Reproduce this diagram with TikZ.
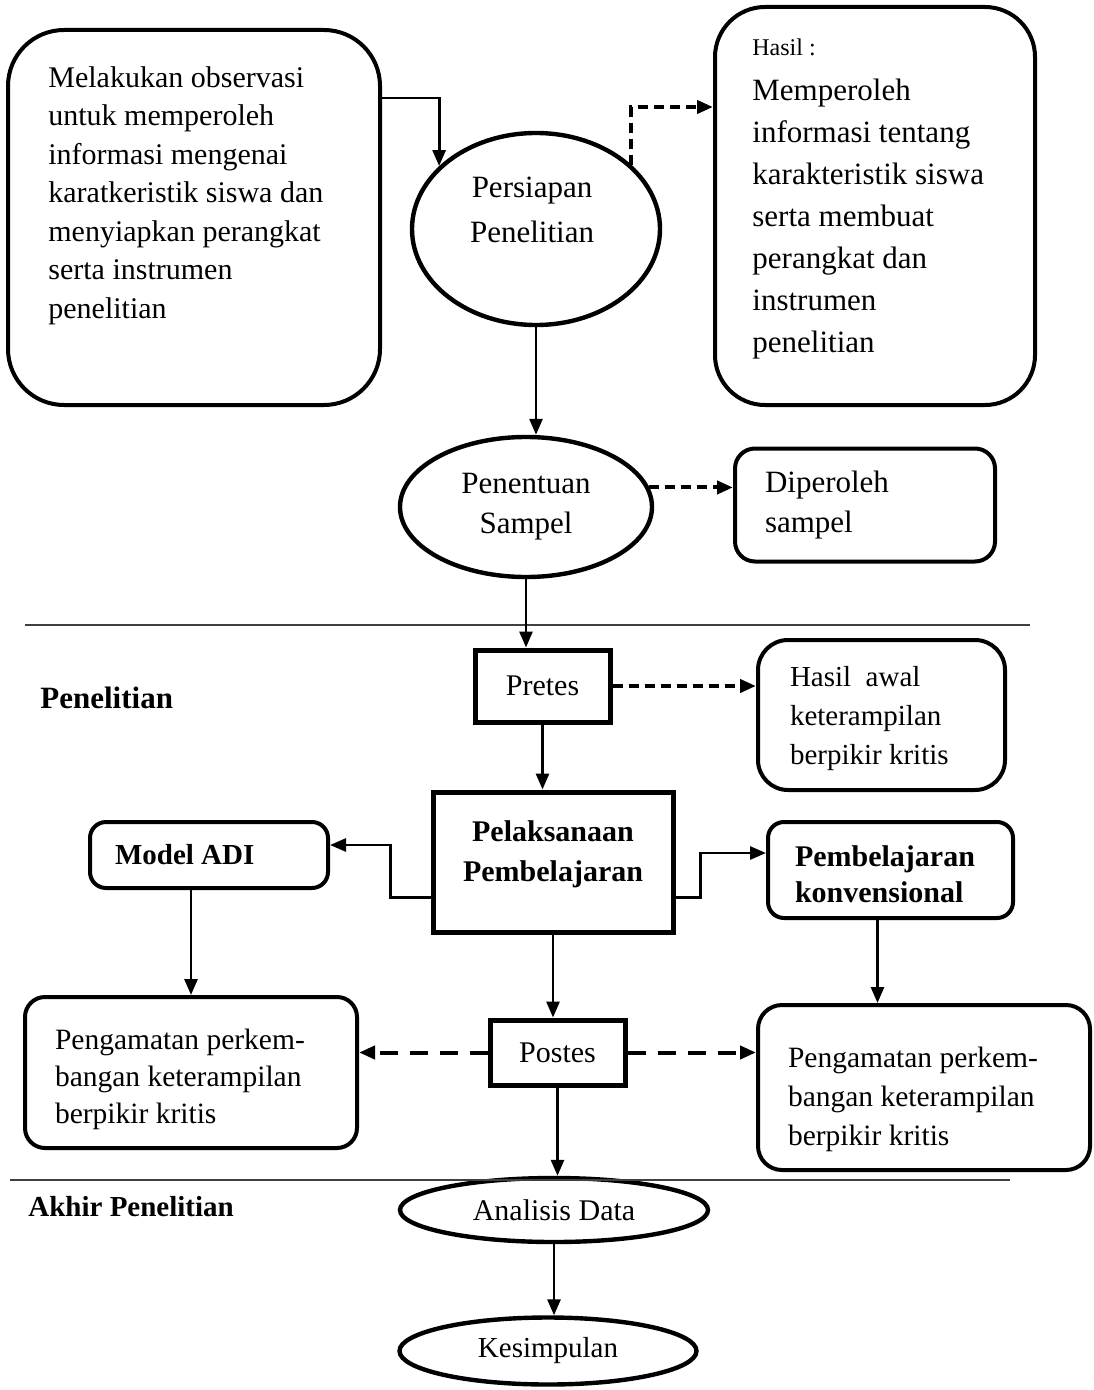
\documentclass[tikz,border=0pt]{standalone}
\usepackage{fontspec}
\setmainfont{Liberation Serif}
\usetikzlibrary{shapes.geometric,arrows.meta}

\tikzset{
  rbox/.style={draw,line width=2pt,rounded corners=#1,inner sep=0pt},
  rbox/.default=10pt,
  sbox/.style={draw,line width=2.5pt,inner sep=0pt},
  oval/.style={ellipse,draw,line width=2.2pt,inner sep=0pt},
  txt/.style={align=left,inner sep=0pt},
  arr/.style={-{Triangle[length=8pt,width=6.5pt]},line width=1.4pt},
  darr/.style={arr,line width=2pt,dash pattern=on 5pt off 3pt},
  darrlong/.style={darr,dash pattern=on 9pt off 6pt},
  rule/.style={line width=1pt,black!75}
}

\begin{document}
\begin{tikzpicture}[x=0.5pt,y=-0.5pt,
  every node/.style={font=\fontsize{15}{19}\selectfont,inner sep=0pt}]
\useasboundingbox (0,0) rectangle (1093,1390);

% persiapan
\node[rbox=28pt,minimum width=186pt,minimum height=187.5pt] (obs) at (194,217.5) {};
\node[txt,anchor=north west,font=\fontsize{15}{19.25}\selectfont] (obstxt) at (48,66)
  {Melakukan observasi\\untuk memperoleh\\informasi mengenai\\karatkeristik siswa dan\\menyiapkan perangkat\\serta instrumen\\penelitian};
\node[rbox=25pt,minimum width=160pt,minimum height=199pt] (hasil) at (875,206) {};
\node[anchor=west,font=\fontsize{12}{14}\selectfont] (hasiltitle) at (752,47) {Hasil :};
\node[txt,anchor=north west,font=\fontsize{15.5}{21}\selectfont] (hasiltxt) at (752,79)
  {Memperoleh\\informasi tentang\\karakteristik siswa\\serta membuat\\perangkat dan\\instrumen\\penelitian};
\node[oval,minimum width=124pt,minimum height=96pt] (prep) at (536,229) {};
\node[align=center,font=\fontsize{15.5}{22.5}\selectfont] (preptxt) at (532,210) {Persiapan\\Penelitian};
\node[oval,minimum width=126pt,minimum height=70pt,align=center,font=\fontsize{15.5}{20}\selectfont] (samp) at (526,507) {Penentuan\\Sampel};
\node[rbox=10pt,minimum width=130pt,minimum height=56.5pt,text width=100pt,align=flush left,font=\fontsize{15.5}{20}\selectfont] (dip) at (865,505) {Diperoleh\\sampel};

% penelitian
\node[sbox,minimum width=67.5pt,minimum height=36pt] (pre) at (542.5,686) {Pretes};
\node[anchor=west,font=\bfseries\fontsize{15.5}{19}\selectfont] (lblpen) at (40,698) {Penelitian};
\node[rbox=15pt,minimum width=123.5pt,minimum height=75pt,text width=91.5pt,align=flush left,font=\fontsize{14.5}{19.5}\selectfont] (awal) at (881.5,715) {\rule{0pt}{14pt}Hasil~ awal\\keterampilan\\berpikir kritis};
\node[sbox,minimum width=120pt,minimum height=70pt,align=center,font=\bfseries\fontsize{15}{20}\selectfont] (pel) at (553,862) {Pelaksanaan\\Pembelajaran\rule[-11pt]{0pt}{11pt}};
\node[rbox=8pt,minimum width=119pt,minimum height=33pt,text width=94pt,align=flush left,font=\bfseries\fontsize{14.5}{18}\selectfont] (adi) at (209,855) {Model ADI};
\node[rbox=8pt,minimum width=122.5pt,minimum height=48pt,text width=95.5pt,align=flush left,font=\bfseries\fontsize{15}{18}\selectfont] (kon) at (890.5,870) {\rule{0pt}{15pt}Pembelajaran\\konvensional};
\node[rbox=10pt,minimum width=166pt,minimum height=75.5pt,text width=136pt,align=flush left,font=\fontsize{14.75}{18.5}\selectfont] (pengL) at (191,1072.5) {\rule{0pt}{17pt}Pengamatan perkem-\\bangan keterampilan\\berpikir kritis};
\node[sbox,minimum width=67.5pt,minimum height=32.5pt] (post) at (557.5,1052.5) {Postes};
\node[rbox=12pt,minimum width=166pt,minimum height=82.5pt,text width=136pt,align=flush left,font=\fontsize{14.75}{19.5}\selectfont] (pengR) at (924,1087.5) {\rule{0pt}{22pt}Pengamatan perkem-\\bangan keterampilan\\berpikir kritis};

% akhir penelitian
\node[anchor=west,font=\bfseries\fontsize{14.5}{18}\selectfont] (lblakhir) at (28,1207) {Akhir Penelitian};
\node[oval,minimum width=154pt,minimum height=32pt] (ana) at (554,1210) {Analisis Data};
\node[oval,minimum width=148.5pt,minimum height=33.5pt,font=\fontsize{14.5}{18}\selectfont] (kes) at (548,1351) {Kesimpulan};

\draw[rule] (25,625) -- (1030,625);
\draw[rule] (10,1180) -- (1010,1180);

\draw[arr] ([yshift=-35pt]obs.north east) -| (prep.147);
\draw[darr] (prep.34) |- ([yshift=-51pt]hasil.north west);
\draw[arr] (prep.south) -- (prep.south |- samp.north);
\draw[darr] (samp.9) -- (samp.9 -| dip.west);
\draw[arr] (samp.south) -- (samp.south |- pre.north);
\draw[darr] (pre.east) -- (pre.east -| awal.west);
\draw[arr] (pre.south) -- (pre.south |- pel.north);
\draw[arr] ([yshift=18.5pt]pel.south west) -- ++(-40,0) |- ([yshift=5pt]adi.east);
\draw[arr] ([yshift=18.5pt]pel.south east) -- ++(25,0) |- ([yshift=8.5pt]kon.west);
\draw[arr] (pengL.north |- adi.south) -- (pengL.north);
\draw[arr] (pel.south) -- (pel.south |- post.north);
\draw[darrlong] (post.west) -- (post.west -| pengL.east);
\draw[darrlong] (post.east) -- (post.east -| pengR.west);
\draw[arr] ([xshift=-6.5pt]kon.south) -- ([xshift=-6.5pt]kon.south |- pengR.north);
\draw[arr] (post.south) -- (post.south |- ana.north);
\draw[arr] (ana.south) -- (ana.south |- kes.north);
\end{tikzpicture}
\end{document}
